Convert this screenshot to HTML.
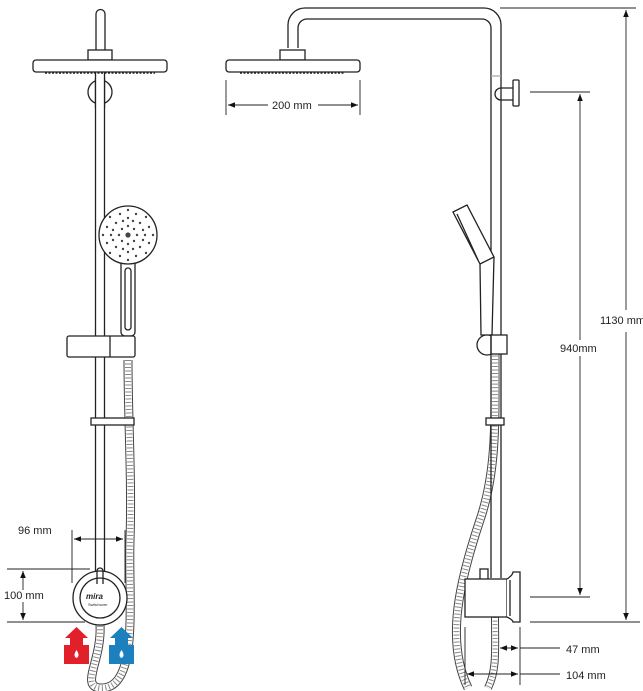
<!DOCTYPE html>
<html><head><style>
html,body{margin:0;padding:0;background:#fff;}
svg{display:block}
text{font-family:"Liberation Sans",sans-serif;font-size:11px;fill:#222}
</style></head><body>
<svg width="643" height="691" viewBox="0 0 643 691" xmlns="http://www.w3.org/2000/svg">
<defs>
<marker id="a" viewBox="0 0 10 10" refX="10" refY="5" markerWidth="8" markerHeight="8" orient="auto-start-reverse"><path d="M0,1 L10,5 L0,9 z" fill="#111"/></marker>
</defs>
<g fill="none" stroke="#222" stroke-width="1.3">
<!-- LEFT: hose -->
<path d="M128,360 C128,420 132,480 130,540 C128,600 140,690 100,688 C80,686 102,660 100,625" stroke="#444" stroke-width="9"/>
<path d="M128,360 C128,420 132,480 130,540 C128,600 140,690 100,688 C80,686 102,660 100,625" stroke="#fff" stroke-width="7"/>
<path d="M128,360 C128,420 132,480 130,540 C128,600 140,690 100,688 C80,686 102,660 100,625" stroke="#888" stroke-width="6" stroke-dasharray="1 2.5"/>
<!-- rail -->
<rect x="95.5" y="60" width="9" height="515" fill="#fff"/>
<path d="M96,50 V14 a4.5,4.5 0 0 1 9,0 V50" fill="#fff"/>
<rect x="88" y="50" width="24" height="10" fill="#fff"/>
<rect x="33" y="60" width="134" height="12" rx="3" fill="#fff"/>
<path d="M45,73 H155" stroke-dasharray="2 1.5" stroke-width="1.6"/>
<circle cx="100" cy="92" r="12"/>
<rect x="95.5" y="78" width="9" height="30" fill="#fff" stroke="none"/>
<path d="M95.5,78 V108 M104.5,78 V108"/>
<!-- handset -->
<rect x="121" y="260" width="14" height="76" rx="4" fill="#fff"/>
<rect x="125" y="268" width="6" height="62" rx="3"/>
<circle cx="128" cy="235" r="29" fill="#fff"/>
<g fill="#444" stroke="none">
<circle cx="128" cy="235" r="2.6"/>
<circle cx="128" cy="226" r="1.2"/><circle cx="128" cy="218" r="1.2"/><circle cx="128" cy="210" r="1.2"/><circle cx="128" cy="244" r="1.2"/><circle cx="128" cy="252" r="1.2"/><circle cx="128" cy="260" r="1.2"/>
<circle cx="119" cy="235" r="1.2"/><circle cx="111" cy="235" r="1.2"/><circle cx="103" cy="235" r="1.2"/><circle cx="137" cy="235" r="1.2"/><circle cx="145" cy="235" r="1.2"/><circle cx="153" cy="235" r="1.2"/>
<circle cx="122" cy="229" r="1.2"/><circle cx="134" cy="229" r="1.2"/><circle cx="122" cy="241" r="1.2"/><circle cx="134" cy="241" r="1.2"/>
<circle cx="116" cy="223" r="1.2"/><circle cx="140" cy="223" r="1.2"/><circle cx="116" cy="247" r="1.2"/><circle cx="140" cy="247" r="1.2"/>
<circle cx="110" cy="217" r="1.2"/><circle cx="146" cy="217" r="1.2"/><circle cx="110" cy="253" r="1.2"/><circle cx="146" cy="253" r="1.2"/>
<circle cx="120" cy="214" r="1.2"/><circle cx="136" cy="214" r="1.2"/><circle cx="120" cy="256" r="1.2"/><circle cx="136" cy="256" r="1.2"/>
<circle cx="107" cy="227" r="1.2"/><circle cx="149" cy="227" r="1.2"/><circle cx="107" cy="243" r="1.2"/><circle cx="149" cy="243" r="1.2"/>
<circle cx="113" cy="230" r="1.2"/><circle cx="143" cy="230" r="1.2"/><circle cx="113" cy="240" r="1.2"/><circle cx="143" cy="240" r="1.2"/>
<circle cx="123" cy="221" r="1.2"/><circle cx="133" cy="221" r="1.2"/><circle cx="123" cy="249" r="1.2"/><circle cx="133" cy="249" r="1.2"/>
</g>
<!-- slider -->
<rect x="67" y="336" width="68" height="21" rx="2" fill="#fff"/>
<path d="M110,336 V357"/>
<rect x="91" y="418" width="43" height="7" fill="#fff"/>
<!-- valve -->
<circle cx="100" cy="598" r="27" fill="#fff"/>
<circle cx="100" cy="598" r="20"/>
<path d="M97,584 V571 a3,3 0 0 1 6,0 V584"/>
<!-- dims left -->
<g stroke-width="0.9">
<path d="M72,530 V583 M125,530 V583"/>
<path d="M74,539 H123" marker-start="url(#a)" marker-end="url(#a)"/>
<path d="M7,569 H90 M7,622 H85"/>
<path d="M23,590 V571" marker-end="url(#a)"/><path d="M23,602 V620" marker-end="url(#a)"/>
</g>
</g>
<text x="86" y="599" style="font-size:8px;font-weight:bold;font-style:italic">mira</text>
<text x="88" y="606" style="font-size:4px">Switchover</text>
<text x="18" y="534">96 mm</text>
<text x="4" y="599">100 mm</text>
<!-- water arrows -->
<path d="M64,664 V645 H70 V638 H65 L76.5,627 L88,638 H83 V645 H89 V664 Z" fill="#e2202a"/>
<path d="M76.5,650 q4,6 0,8 q-4,-2 0,-8z" fill="#fff"/>
<path d="M109,664 V645 H115 V638 H110 L121.5,627 L133,638 H128 V645 H134 V664 Z" fill="#1b80bd"/>
<path d="M121.5,650 q4,6 0,8 q-4,-2 0,-8z" fill="#fff"/>

<!-- RIGHT -->
<g fill="none" stroke="#222" stroke-width="1.3">
<path d="M495,352 C495,420 497,470 480,520 C460,580 445,640 468,688" stroke="#444" stroke-width="9"/>
<path d="M495,352 C495,420 497,470 480,520 C460,580 445,640 468,688" stroke="#fff" stroke-width="7"/>
<path d="M495,352 C495,420 497,470 480,520 C460,580 445,640 468,688" stroke="#888" stroke-width="6" stroke-dasharray="1 2.5"/>
<path d="M495,617 C495,650 497,670 488,688" stroke="#444" stroke-width="8"/>
<path d="M495,617 C495,650 497,670 488,688" stroke="#fff" stroke-width="6"/>
<path d="M495,617 C495,650 497,670 488,688" stroke="#888" stroke-width="5" stroke-dasharray="1 2.5"/>
<path d="M288,48 V25 a17,17 0 0 1 17,-17 H484 a17,17 0 0 1 17,17 V578"/>
<path d="M298,48 V28 a9,9 0 0 1 9,-9 H482 a9,9 0 0 1 9,9 V578"/>
<rect x="280" y="50" width="25" height="10" fill="#fff"/>
<rect x="226" y="60" width="134" height="12" rx="3" fill="#fff"/>
<path d="M240,73 H345" stroke-dasharray="2 1.5" stroke-width="1.6"/>
<path d="M491,76 H501" stroke="#aaa"/>
<path d="M501,88 H513 M501,100 H513"/>
<path d="M501,88 a6,6 0 0 0 0,12" />
<rect x="513" y="80" width="6" height="26" rx="1" fill="#fff"/>
<!-- handset right -->
<path d="M480,264 L481,335 H492 L494,257" fill="#fff"/>
<path d="M453,212 L467,205 L494,257 L480,264 Z" fill="#fff"/>
<path d="M457,214 L478,260"/>
<circle cx="487" cy="345" r="10" fill="#fff"/>
<rect x="491" y="335" width="16" height="19" fill="#fff"/>
<path d="M491,335 V354"/>
<rect x="486" y="418" width="18" height="7" fill="#fff"/>
<!-- valve right -->
<rect x="480" y="569" width="8" height="12" fill="#fff"/>
<rect x="465" y="579" width="42" height="38" fill="#fff"/>
<path d="M507,579 Q513,575 513,572 H520 V622 H513 Q513,620 507,617" fill="#fff"/>
<path d="M510,580 V616"/>
<!-- dims right -->
<g stroke-width="0.9">
<path d="M226,80 V115 M360,80 V115"/>
<path d="M268,105 H228" marker-end="url(#a)"/><path d="M318,105 H358" marker-end="url(#a)"/>
<path d="M500,8 H636 M530,92 H590 M530,597 H590 M530,622 H640"/>
<path d="M626,310 V10" marker-end="url(#a)"/><path d="M626,332 V620" marker-end="url(#a)"/>
<path d="M580,340 V94" marker-end="url(#a)"/><path d="M580,356 V595" marker-end="url(#a)"/>
<path d="M465,627 V685 M520,627 V685"/>
<path d="M505,648 H518" marker-end="url(#a)"/><path d="M513,648 H500" marker-end="url(#a)"/><path d="M520,648 H560"/>
<path d="M467,674 H518" marker-start="url(#a)" marker-end="url(#a)"/><path d="M520,674 H560"/>
</g>
</g>
<text x="272" y="109">200 mm</text>
<text x="600" y="324">1130 mm</text>
<text x="560" y="352">940mm</text>
<text x="566" y="653">47 mm</text>
<text x="566" y="679">104 mm</text>
</svg>
</body></html>
